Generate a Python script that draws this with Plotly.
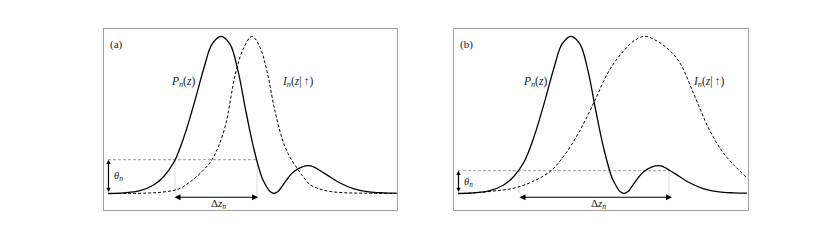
import plotly.graph_objects as go

# ---- data (frame-relative z, normalised height) ----
P_Z = [4, 20, 35, 50, 60, 70, 80, 90, 100, 108, 117, 126, 134, 142, 150, 158, 162, 166, 170, 174, 178, 190, 205, 220, 235, 250, 265, 280, 293]
P_VAL = [0.0, 0.004, 0.016, 0.056, 0.11, 0.20, 0.36, 0.57, 0.80, 0.95, 1.0, 0.95, 0.78, 0.52, 0.28, 0.10, 0.05, 0.012, 0.0, 0.012, 0.045, 0.14, 0.177, 0.13, 0.07, 0.03, 0.01, 0.004, 0.002]

IA_Z = [4, 40, 60, 75, 87, 98, 108, 120, 132, 140, 148, 156, 163, 171, 179, 186, 193, 200, 206, 215, 225, 240, 260, 293]
IA_VAL = [0.0, 0.002, 0.01, 0.03, 0.078, 0.14, 0.215, 0.40, 0.777, 0.93, 1.0, 0.93, 0.777, 0.523, 0.332, 0.23, 0.162, 0.10, 0.056, 0.03, 0.014, 0.005, 0.002, 0.0]

IB_Z = [4, 20, 40, 60, 80, 97, 110, 125, 140, 155, 170, 182, 191, 200, 212, 225, 240, 255, 268, 280, 293]
IB_VAL = [0.0, 0.004, 0.016, 0.034, 0.08, 0.145, 0.24, 0.39, 0.58, 0.78, 0.91, 0.98, 1.0, 0.98, 0.93, 0.84, 0.63, 0.41, 0.27, 0.18, 0.10]

THETA = [0.215, 0.145]          # threshold per panel
CROSS_L = [71, 65]              # left crossing of threshold
CROSS_R = [153, 215]            # right crossing of threshold
ARROW_L = [69, 64]
ARROW_R = [154, 218]
PANEL_LABELS = ["(a)", "(b)"]
I_CURVES = [(IA_Z, IA_VAL), (IB_Z, IB_VAL)]
P_LABEL_X = [93, 95]
I_LABEL_X = [176, 237]

X_RANGES = [[0, 292.5], [0, 293.5]]
Y_RANGE = [-0.1018, 1.0496]
FONT = "Liberation Serif"
OFF = 8  # page body margin compensation

fig = go.Figure()
annotations = []
for k in range(2):
    xa = "x" if k == 0 else "x2"
    ya = "y" if k == 0 else "y2"
    th = THETA[k]
    fig.add_trace(go.Scatter(x=[4, CROSS_R[k]], y=[th, th], mode="lines",
                             line=dict(color="#808080", width=0.8, dash="3px,2px"),
                             xaxis=xa, yaxis=ya, hoverinfo="skip"))
    fig.add_trace(go.Scatter(x=[CROSS_L[k], CROSS_L[k]], y=[th, 0], mode="lines",
                             line=dict(color="#a8a8a8", width=0.8, dash="1px,1px"),
                             xaxis=xa, yaxis=ya, hoverinfo="skip"))
    fig.add_trace(go.Scatter(x=[CROSS_R[k], CROSS_R[k]], y=[th, -0.035], mode="lines",
                             line=dict(color="#a8a8a8", width=0.8, dash="1px,1px"),
                             xaxis=xa, yaxis=ya, hoverinfo="skip"))
    iz, iv = I_CURVES[k]
    fig.add_trace(go.Scatter(x=iz, y=iv, mode="lines",
                             line=dict(color="black", width=1.0, dash="3px,2px", shape="spline", smoothing=1.0),
                             xaxis=xa, yaxis=ya, hoverinfo="skip"))
    fig.add_trace(go.Scatter(x=P_Z, y=P_VAL, mode="lines",
                             line=dict(color="black", width=1.3, shape="spline", smoothing=1.0),
                             xaxis=xa, yaxis=ya, hoverinfo="skip"))
    annotations.append(dict(x=ARROW_R[k], y=-0.024, ax=ARROW_L[k], ay=-0.024,
                            xref=xa, yref=ya, axref=xa, ayref=ya, text="", showarrow=True,
                            arrowhead=2, startarrowhead=2, arrowside="end+start",
                            arrowsize=1, startarrowsize=1, arrowwidth=1.2, arrowcolor="black"))
    annotations.append(dict(x=4.5, y=th, ax=4.5, ay=0,
                            xref=xa, yref=ya, axref=xa, ayref=ya, text="", showarrow=True,
                            arrowhead=2, startarrowhead=2, arrowside="end+start",
                            arrowsize=0.7, startarrowsize=0.7, arrowwidth=1.2, arrowcolor="black"))
    annotations.append(dict(x=4, y=0.945, xref=xa, yref=ya, text=PANEL_LABELS[k], showarrow=False,
                            xanchor="left", font=dict(family=FONT, size=11, color="#222")))
    annotations.append(dict(x=P_LABEL_X[k], y=0.71, xref=xa, yref=ya,
                            text="<i>P</i><sub><i>n</i></sub>(<i>z</i>)", showarrow=False,
                            xanchor="right", font=dict(family=FONT, size=11.5, color="#222")))
    annotations.append(dict(x=I_LABEL_X[k], y=0.71, xref=xa, yref=ya,
                            text="<i>I</i><sub><i>n</i></sub>(<i>z</i>|\u2009↑)", showarrow=False,
                            xanchor="left", font=dict(family=FONT, size=11.5, color="#222")))
    annotations.append(dict(x=8, y=th / 2, xref=xa, yref=ya,
                            text="<i>θ</i><sub><i>n</i></sub>", showarrow=False,
                            xanchor="left", font=dict(family=FONT, size=10.5, color="#222")))
    annotations.append(dict(x=(ARROW_L[k] + ARROW_R[k]) / 2 + 3, y=-0.066, xref=xa, yref=ya,
                            text="Δ<i>z</i><sub><i>n</i></sub>", showarrow=False,
                            font=dict(family=FONT, size=11, color="#222")))

ax_common = dict(showgrid=False, zeroline=False, showticklabels=False, ticks="",
                 showline=True, mirror=True, linecolor="#a0a0a0", linewidth=1)
ydom = [(240 - (209.5 - OFF)) / 240, (240 - (28.5 - OFF)) / 240]
fig.update_layout(
    width=830, height=240, margin=dict(l=0, r=0, t=0, b=0),
    paper_bgcolor="white", plot_bgcolor="white", showlegend=False,
    xaxis=dict(domain=[(104 - OFF) / 830, (396.5 - OFF) / 830], range=X_RANGES[0], **ax_common),
    yaxis=dict(domain=ydom, range=Y_RANGE, **ax_common),
    xaxis2=dict(domain=[(454 - OFF) / 830, (747.5 - OFF) / 830], range=X_RANGES[1], anchor="y2", **ax_common),
    yaxis2=dict(domain=ydom, range=Y_RANGE, anchor="x2", **ax_common),
    annotations=annotations,
)
fig.write_html("out.html")
